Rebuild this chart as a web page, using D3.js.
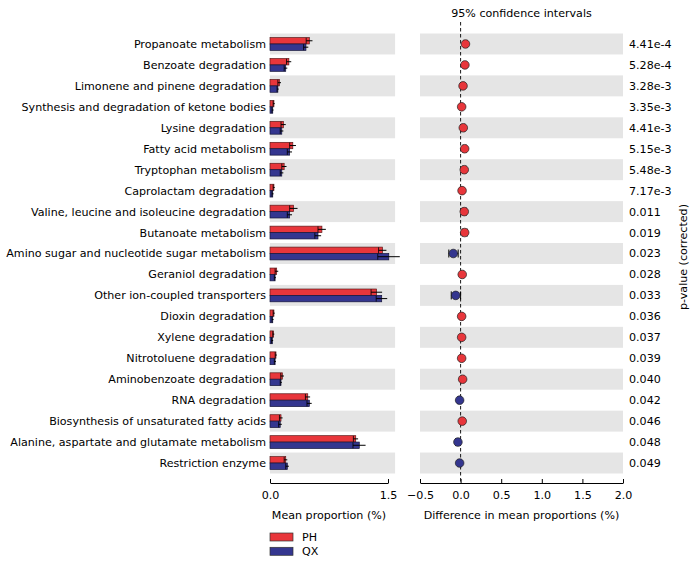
<!DOCTYPE html>
<html>
<head>
<meta charset="utf-8">
<script src="https://cdn.jsdelivr.net/npm/d3@7"></script>
<style>
  body { margin: 0; background: #fff; }
  svg { font-family: "DejaVu Sans", sans-serif; }
</style>
</head>
<body>
<svg id="chart" width="695" height="564"></svg>
<script>
const categories = [
  "Propanoate metabolism",
  "Benzoate degradation",
  "Limonene and pinene degradation",
  "Synthesis and degradation of ketone bodies",
  "Lysine degradation",
  "Fatty acid metabolism",
  "Tryptophan metabolism",
  "Caprolactam degradation",
  "Valine, leucine and isoleucine degradation",
  "Butanoate metabolism",
  "Amino sugar and nucleotide sugar metabolism",
  "Geraniol degradation",
  "Other ion-coupled transporters",
  "Dioxin degradation",
  "Xylene degradation",
  "Nitrotoluene degradation",
  "Aminobenzoate degradation",
  "RNA degradation",
  "Biosynthesis of unsaturated fatty acids",
  "Alanine, aspartate and glutamate metabolism",
  "Restriction enzyme"
];
const phMean = [0.50, 0.24, 0.12, 0.05, 0.17, 0.29, 0.18, 0.05, 0.30, 0.66, 1.43, 0.085, 1.355, 0.05, 0.045, 0.076, 0.157, 0.48, 0.14, 1.09, 0.20];
const qxMean = [0.457, 0.20, 0.10, 0.035, 0.15, 0.25, 0.15, 0.035, 0.25, 0.61, 1.51, 0.065, 1.42, 0.035, 0.03, 0.065, 0.14, 0.50, 0.13, 1.135, 0.22];
const phErr = [0.04, 0.03, 0.02, 0.01, 0.03, 0.04, 0.03, 0.01, 0.05, 0.05, 0.05, 0.02, 0.07, 0.01, 0.01, 0.01, 0.02, 0.03, 0.02, 0.03, 0.02];
const qxErr = [0.03, 0.02, 0.01, 0.01, 0.02, 0.03, 0.02, 0.01, 0.03, 0.04, 0.14, 0.01, 0.07, 0.01, 0.01, 0.01, 0.01, 0.03, 0.02, 0.08, 0.02];
const diffMean = [0.06, 0.053, 0.03, 0.013, 0.033, 0.05, 0.045, 0.018, 0.045, 0.05, -0.09, 0.02, -0.06, 0.013, 0.013, 0.013, 0.025, -0.012, 0.02, -0.033, -0.012];
const ciLow  = [0.04, 0.035, 0.015, 0.005, 0.015, 0.03, 0.025, 0.008, 0.02, 0.02, -0.145, 0.008, -0.115, 0.005, 0.005, 0.005, 0.01, -0.03, 0.005, -0.06, -0.03];
const ciHigh = [0.08, 0.07, 0.045, 0.02, 0.05, 0.07, 0.065, 0.028, 0.07, 0.08, -0.03, 0.032, 0.0, 0.02, 0.02, 0.02, 0.04, 0.006, 0.035, -0.006, 0.006];
const pValues = ["4.41e-4", "5.28e-4", "3.28e-3", "3.35e-3", "4.41e-3", "5.15e-3", "5.48e-3", "7.17e-3", "0.011", "0.019", "0.023", "0.028", "0.033", "0.036", "0.037", "0.039", "0.040", "0.042", "0.046", "0.048", "0.049"];
const groups = ["PH", "QX"];
const leftTicks = [0.0, 1.5];
const rightTicks = [-0.5, 0.0, 0.5, 1.0, 1.5, 2.0];

const RED = "#e8363b", BLUE = "#34368f";
const BAND = "#e5e5e5";
const FS = 11.1;
const svg = d3.select("#chart");

const y = d3.scaleBand().domain(categories).range([33.5, 473.5]).padding(0);
const xL = d3.scaleLinear().domain([0, 1.5]).range([270, 388]);
const xLmax = 1.59;
const xR = d3.scaleLinear().domain([-0.5, 2.0]).range([420, 623]);
const axisY = 483;

// bands
categories.forEach((c, i) => {
  if (i % 2 === 0) {
    svg.append("rect").attr("x", xL(0)).attr("y", y(c)).attr("width", xL(xLmax) - xL(0))
      .attr("height", y.bandwidth()).attr("fill", BAND);
    svg.append("rect").attr("x", xR(-0.5)).attr("y", y(c)).attr("width", xR(2.0) - xR(-0.5))
      .attr("height", y.bandwidth()).attr("fill", BAND);
  }
});

// category labels
svg.append("g").selectAll("text").data(categories).join("text")
  .attr("x", 266).attr("y", d => y(d) + y.bandwidth() / 2)
  .attr("dy", "0.36em").attr("text-anchor", "end")
  .attr("font-size", FS).attr("fill", "#000").text(d => d);

// bars
const bh = 6.4;
const barG = svg.append("g");
categories.forEach((c, i) => {
  const cy = y(c) + y.bandwidth() / 2;
  barG.append("rect").attr("x", xL(0)).attr("y", cy - bh).attr("width", xL(phMean[i]) - xL(0))
    .attr("height", bh).attr("fill", RED).attr("stroke", "#5a1a1a").attr("stroke-width", 0.7);
  barG.append("rect").attr("x", xL(0)).attr("y", cy).attr("width", xL(qxMean[i]) - xL(0))
    .attr("height", bh).attr("fill", BLUE).attr("stroke", "#15153a").attr("stroke-width", 0.7);
  [[phMean[i], phErr[i], cy - bh / 2], [qxMean[i], qxErr[i], cy + bh / 2]].forEach(([m, e, yy]) => {
    barG.append("line").attr("x1", xL(m - e)).attr("x2", xL(m + e)).attr("y1", yy).attr("y2", yy)
      .attr("stroke", "#000").attr("stroke-width", 1);
    barG.append("line").attr("x1", xL(m - e)).attr("x2", xL(m - e)).attr("y1", yy - 3).attr("y2", yy + 3)
      .attr("stroke", "#000").attr("stroke-width", 0.8);
  });
});

// left axis
const axL = svg.append("g").attr("transform", `translate(0,${axisY})`)
  .call(d3.axisBottom(xL).tickValues(leftTicks).tickFormat(d3.format(".1f")).tickSizeInner(-4).tickSizeOuter(0).tickPadding(8));
axL.select(".domain").attr("stroke", "#000");
axL.selectAll("text").attr("font-size", FS).attr("font-family", "DejaVu Sans").attr("fill", "#000");
svg.append("text").attr("x", (xL(0) + xL(1.5)) / 2).attr("y", 519).attr("text-anchor", "middle")
  .attr("font-size", FS).text("Mean proportion (%)");

// right axis
const axR = svg.append("g").attr("transform", `translate(0,${axisY})`)
  .call(d3.axisBottom(xR).tickValues(rightTicks).tickFormat(d => d < 0 ? "\u22120.5" : d3.format(".1f")(d)).tickSizeInner(-4).tickSizeOuter(0).tickPadding(8));
axR.select(".domain").attr("stroke", "#000");
axR.selectAll("text").attr("font-size", FS).attr("font-family", "DejaVu Sans").attr("fill", "#000");
svg.append("text").attr("x", (xR(-0.5) + xR(2.0)) / 2).attr("y", 519).attr("text-anchor", "middle")
  .attr("font-size", FS).text("Difference in mean proportions (%)");

// dashed zero line
svg.append("line").attr("x1", xR(0)).attr("x2", xR(0)).attr("y1", 22).attr("y2", axisY)
  .attr("stroke", "#000").attr("stroke-width", 0.9).attr("stroke-dasharray", "3.5,2.5");

svg.append("text").attr("x", (xR(-0.5) + xR(2.0)) / 2).attr("y", 17).attr("text-anchor", "middle")
  .attr("font-size", FS).text("95% confidence intervals");

// CI and points
const ptG = svg.append("g");
categories.forEach((c, i) => {
  const cy = y(c) + y.bandwidth() / 2;
  ptG.append("line").attr("x1", xR(ciLow[i])).attr("x2", xR(ciHigh[i])).attr("y1", cy).attr("y2", cy)
    .attr("stroke", "#000").attr("stroke-width", 1);
  [ciLow[i], ciHigh[i]].forEach(v => {
    ptG.append("line").attr("x1", xR(v)).attr("x2", xR(v)).attr("y1", cy - 4).attr("y2", cy + 4)
      .attr("stroke", "#000").attr("stroke-width", 1);
  });
  ptG.append("circle").attr("cx", xR(diffMean[i])).attr("cy", cy).attr("r", 4.3)
    .attr("fill", diffMean[i] >= 0 ? RED : BLUE).attr("stroke", "#222").attr("stroke-width", 0.7);
});

// p-values
svg.append("g").selectAll("text").data(pValues).join("text")
  .attr("x", 629).attr("y", (d, i) => y(categories[i]) + y.bandwidth() / 2).attr("dy", "0.36em")
  .attr("font-size", FS).text(d => d);

svg.append("text").attr("transform", "translate(687,257) rotate(-90)").attr("text-anchor", "middle")
  .attr("font-size", FS).text("p-value (corrected)");

// legend
groups.forEach((g, i) => {
  svg.append("rect").attr("x", 270).attr("y", 533 + i * 14.3).attr("width", 23).attr("height", 8)
    .attr("fill", i === 0 ? RED : BLUE).attr("stroke", "#333").attr("stroke-width", 0.7);
  svg.append("text").attr("x", 302).attr("y", 537 + i * 14.3).attr("dy", "0.36em")
    .attr("font-size", FS).text(g);
});
</script>
</body>
</html>
